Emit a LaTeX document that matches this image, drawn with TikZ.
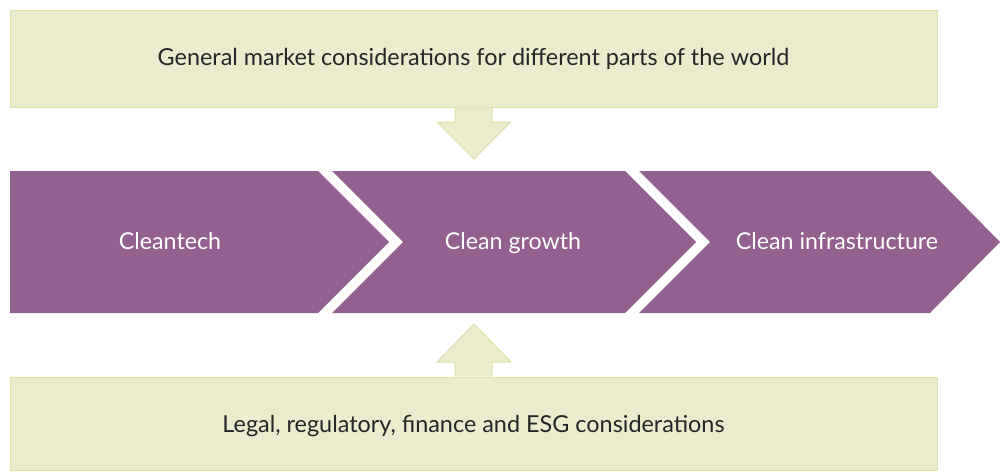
\documentclass[tikz,border=0pt]{standalone}
\usepackage{fontspec}
\setmainfont{Lato}
\definecolor{boxfill}{HTML}{EBECCD}
\definecolor{boxline}{HTML}{DDE2A8}
\definecolor{chev}{HTML}{92618F}
\begin{document}
\begin{tikzpicture}[x=1pt,y=-1pt,
  infobox/.style={fill=boxfill,draw=boxline,line width=1pt},
  blockarrow/.style={fill=boxfill,draw=boxline,line width=1pt,line join=miter},
  chevshape/.style={fill=chev,draw=none},
  boxtext/.style={font=\fontsize{23.4}{26}\selectfont,text=black!85,anchor=base,inner sep=0pt},
  chevtext/.style={font=\fontsize{23.2}{26}\selectfont,text=white,anchor=base,inner sep=0pt}]
\useasboundingbox (0,0) rectangle (1000,471);
% top box
\draw[infobox] (10,10) rectangle (937,107);
\node[boxtext] (top) at (473.5,65) {General market considerations for different parts of the world};
% bottom box
\draw[infobox] (10,377) rectangle (937,470);
\node[boxtext] (bot) at (473.5,432) {Legal, regulatory, finance and ESG considerations};
% top block arrow (down)
\draw[blockarrow] (455,107.5) -- (455,122) -- (437,122) -- (474,159) -- (511,122) -- (492,122) -- (492,107.5);
% bottom block arrow (up)
\draw[blockarrow] (455,376.5) -- (455,362) -- (437,362) -- (474,324) -- (511,362) -- (492,362) -- (492,376.5);
% chevrons
\fill[chevshape] (10,171) -- (318,171) -- (389,242) -- (318,313) -- (10,313) -- cycle;
\fill[chevshape] (332,171) -- (625,171) -- (696,242) -- (625,313) -- (332,313) -- (403,242) -- cycle;
\fill[chevshape] (639,171) -- (930,171) -- (1000,242) -- (930,313) -- (639,313) -- (710,242) -- cycle;
\node[chevtext] (c1) at (170,249) {Cleantech};
\node[chevtext] (c2) at (513,249) {Clean growth};
\node[chevtext] (c3) at (837,249) {Clean infrastructure};
\end{tikzpicture}
\end{document}
